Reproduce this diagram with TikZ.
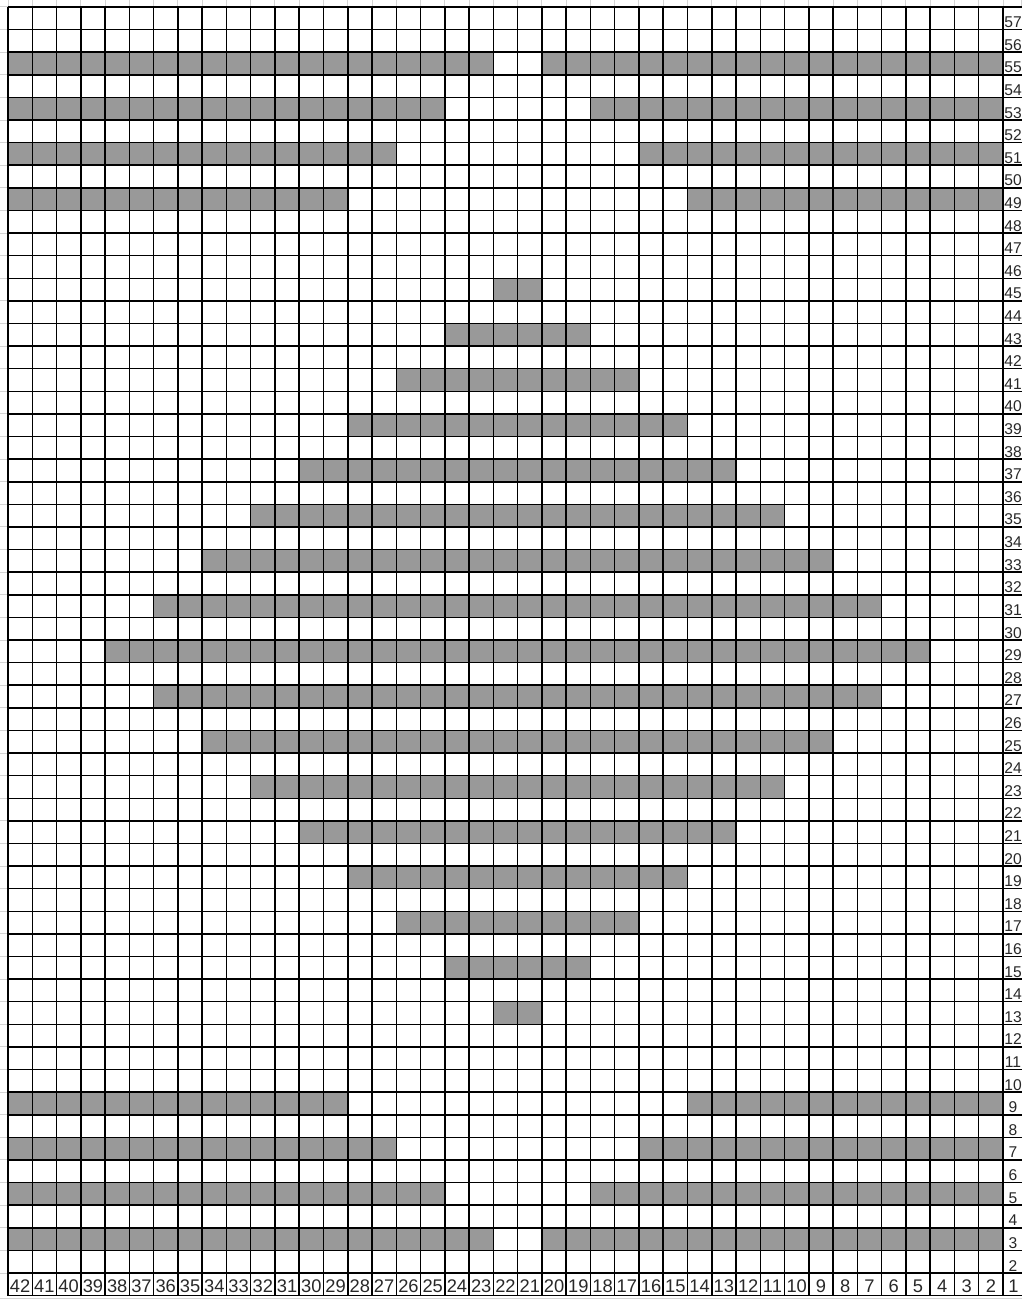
\documentclass[tikz,border=0pt]{standalone}
\usepackage{fontspec}
\setmainfont{Liberation Sans}
\definecolor{cellgray}{RGB}{153,153,153}
\definecolor{sheetline}{RGB}{212,212,212}
\definecolor{labeltext}{RGB}{40,40,40}
\begin{document}
\begin{tikzpicture}[x=1pt,y=-1pt,
  gridline/.style={black,line width=1.5pt},
  faint/.style={sheetline,line width=1pt},
  rowlab/.style={font=\fontsize{15.6}{17}\selectfont,text=labeltext,anchor=base,inner sep=0pt},
  collab/.style={font=\fontsize{18.3}{19}\selectfont,text=labeltext,anchor=base,inner sep=0pt}]
\def\W{24.268}
\def\H{22.607}
\useasboundingbox (0,0) rectangle (1022,1300);
\fill[white] (0,0) rectangle (1022,1300);
% faint spreadsheet lines in the margins
\foreach \k in {0,...,41} \draw[faint] ({8+\k*\W},0) -- ({8+\k*\W},7);
\draw[faint] (1021.5,0) -- (1021.5,7);
\foreach \j in {0,...,56} \draw[faint] (0,{7+\j*\H}) -- (8,{7+\j*\H});
\draw[faint] (0,1298.5) -- (1022,1298.5);
% gray cells
\foreach \r/\a/\b in {55/42/23,55/20/2,53/42/25,53/18/2,51/42/27,51/16/2,49/42/29,49/14/2,
  9/42/29,9/14/2,7/42/27,7/16/2,5/42/25,5/18/2,3/42/23,3/20/2,
  45/22/21,43/24/19,41/26/17,39/28/15,37/30/13,35/32/11,33/34/9,31/36/7,29/38/5,
  27/36/7,25/34/9,23/32/11,21/30/13,19/28/15,17/26/17,15/24/19,13/22/21}
  \fill[cellgray] ({8+(42-\a)*\W},{7+(57-\r)*\H}) rectangle ({8+(43-\b)*\W},{7+(58-\r)*\H});
% grid
\foreach \k in {0,...,41} \draw[gridline] ({8+\k*\W},7) -- ({8+\k*\W},1295.5);
\foreach \j in {0,...,56} \draw[gridline] (8,{7+\j*\H}) -- (1022,{7+\j*\H});
\draw[gridline] (8,1295.5) -- (1022,1295.5);
% row labels
\foreach \r in {2,...,57} \node[rowlab] (rl\r) at (1013,{7+(58-\r)*\H-2}) {\r};
% column labels
\foreach \c in {2,...,42} \node[collab] (cl\c) at ({8+(42-\c)*\W+\W/2},1292) {\c};
\node[collab] (cl1) at (1013.5,1292) {1};
\end{tikzpicture}
\end{document}
